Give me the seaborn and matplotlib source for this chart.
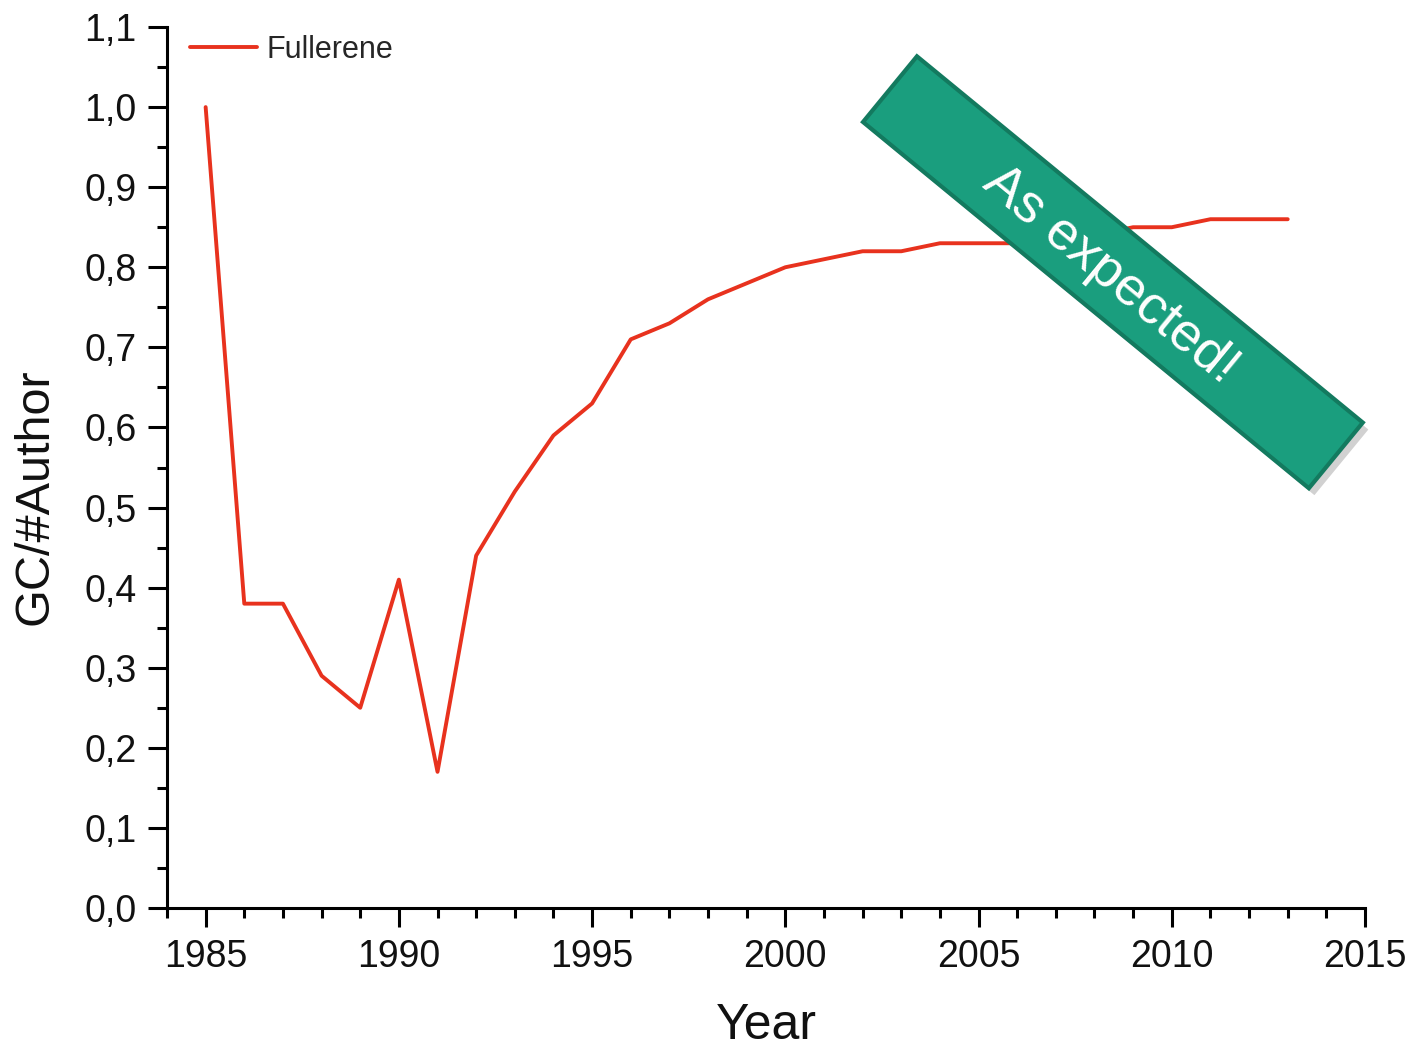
import matplotlib
matplotlib.use("Agg")
import matplotlib.pyplot as plt
import matplotlib.patches as mpatches
import matplotlib.patheffects as pe
from matplotlib.transforms import IdentityTransform
from matplotlib.ticker import MultipleLocator, FixedLocator, FixedFormatter
import seaborn as sns
import pandas as pd

years = list(range(1985, 2014))
gc_per_author = [1.00, 0.38, 0.38, 0.29, 0.25, 0.41, 0.17, 0.44, 0.52, 0.59,
                 0.63, 0.71, 0.73, 0.76, 0.78, 0.80, 0.81, 0.82, 0.82, 0.83,
                 0.83, 0.83, 0.84, 0.84, 0.85, 0.85, 0.86, 0.86, 0.86]
series_name = "Fullerene"
y_ticks = [0.0, 0.1, 0.2, 0.3, 0.4, 0.5, 0.6, 0.7, 0.8, 0.9, 1.0, 1.1]
y_tick_labels = ["0,0", "0,1", "0,2", "0,3", "0,4", "0,5", "0,6", "0,7", "0,8", "0,9", "1,0", "1,1"]
x_ticks = [1985, 1990, 1995, 2000, 2005, 2010, 2015]
banner_text = "As expected!"

sns.set_theme(style="ticks")
plt.rcParams['font.family'] = ['Liberation Sans', 'DejaVu Sans']

df = pd.DataFrame({"Year": years, "GC": gc_per_author, "series": series_name})

fig = plt.figure(figsize=(14.18, 10.48), dpi=100)
ax = fig.add_axes([167/1418, 1 - 908/1048, (1365-167)/1418, (908-27)/1048])

sns.lineplot(data=df, x="Year", y="GC", hue="series", palette=["#e8321e"],
             linewidth=2.8, ax=ax)

ax.set_xlim(1984, 2015)
ax.set_ylim(0, 1.1)
ax.xaxis.set_major_locator(FixedLocator(x_ticks))
ax.xaxis.set_minor_locator(MultipleLocator(1))
ax.yaxis.set_major_locator(FixedLocator(y_ticks))
ax.yaxis.set_major_formatter(FixedFormatter(y_tick_labels))
ax.yaxis.set_minor_locator(MultipleLocator(0.05))

for s in ["top", "right"]:
    ax.spines[s].set_visible(False)
for s in ["left", "bottom"]:
    ax.spines[s].set_linewidth(2.2)
    ax.spines[s].set_color("black")

ax.tick_params(axis="both", which="major", direction="out", length=14, width=2.2,
               labelsize=27, color="black", labelcolor="#111111", pad=8)
ax.tick_params(axis="both", which="minor", direction="out", length=7, width=2.2, color="black")

ax.set_xlabel("Year", fontsize=36, color="#111111")
ax.set_ylabel("GC/#Author", fontsize=35, color="#111111")
ax.xaxis.set_label_coords((766 - 167) / (1365 - 167), -(1026 - 908) / (908 - 27))
ax.yaxis.set_label_coords(-(167 - 35) / (1365 - 167), (908 - 497) / (908 - 27))
ax.xaxis.label.set_va("center")
ax.yaxis.label.set_va("center")

leg = ax.legend(loc="upper left", frameon=False, fontsize=22, handlelength=2.2,
                handletextpad=0.3, borderaxespad=0.0, bbox_to_anchor=(0.009, 1.005))

# Banner
H = 1048
bx, by = 863, H - 122
rect = mpatches.Rectangle((bx, by), 577, 85, angle=-39.4, transform=IdentityTransform(),
                          facecolor="#1a9e7e", edgecolor="#137a5f", linewidth=3,
                          zorder=10)
rect.set_path_effects([pe.SimplePatchShadow(offset=(4, -5), shadow_rgbFace="#000000", alpha=0.18),
                       pe.Normal()])
fig.add_artist(rect)
fig.text(1111, H - 275, banner_text, transform=IdentityTransform(), rotation=-39.4,
         rotation_mode="anchor", ha="center", va="center", fontsize=39,
         color="white", zorder=11)

fig.savefig("out.png", dpi=100)
